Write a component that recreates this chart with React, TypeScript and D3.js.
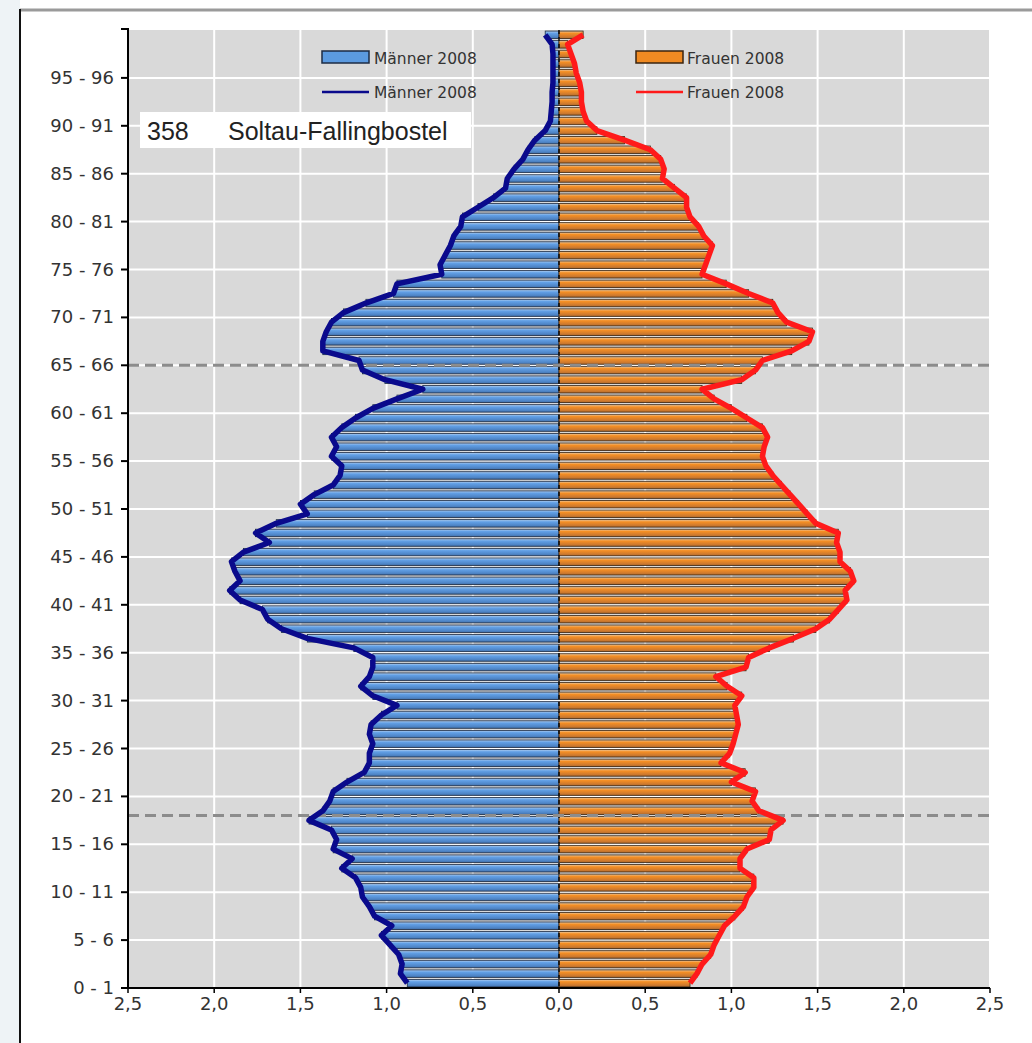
import * as d3 from 'd3';

// age groups 0..99, share of population in %
const ages = d3.range(0, 100);

const maleValues = [
  0.88, 0.92, 0.91, 0.93, 0.98, 1.03, 0.97, 1.07, 1.1, 1.14,
  1.15, 1.18, 1.26, 1.2, 1.31, 1.29, 1.32, 1.45, 1.37, 1.33,
  1.31, 1.23, 1.13, 1.1, 1.1, 1.08, 1.1, 1.09, 1.03, 0.94,
  1.08, 1.15, 1.1, 1.08, 1.08, 1.19, 1.46, 1.61, 1.69, 1.72,
  1.85, 1.91, 1.85, 1.88, 1.9, 1.83, 1.68, 1.76, 1.64, 1.46,
  1.5, 1.42, 1.31, 1.27, 1.26, 1.32, 1.29, 1.32, 1.26, 1.18,
  1.08, 0.94, 0.79, 1.01, 1.14, 1.16, 1.37, 1.37, 1.35, 1.32,
  1.25, 1.12, 0.96, 0.94, 0.68, 0.69, 0.66, 0.63, 0.61, 0.57,
  0.56, 0.47, 0.38, 0.31, 0.3, 0.26, 0.21, 0.18, 0.14, 0.08,
  0.05, 0.045, 0.04, 0.04, 0.035, 0.035, 0.035, 0.035, 0.04, 0.08,
];

const femaleValues = [
  0.76, 0.8, 0.83, 0.88, 0.9, 0.93, 0.96, 1.02, 1.07, 1.09,
  1.13, 1.13, 1.05, 1.05, 1.09, 1.22, 1.23, 1.3, 1.16, 1.12,
  1.14, 1.0, 1.08, 0.94, 0.99, 1.01, 1.025, 1.04, 1.03, 1.02,
  1.06, 0.975, 0.91, 1.085, 1.1, 1.22, 1.36, 1.49, 1.57, 1.62,
  1.67, 1.66, 1.71, 1.69, 1.63, 1.63, 1.61, 1.62, 1.49, 1.44,
  1.39, 1.34, 1.29, 1.24, 1.2, 1.18, 1.19, 1.21, 1.18, 1.09,
  1.0, 0.9, 0.83, 1.06, 1.14, 1.18, 1.35, 1.45, 1.47, 1.32,
  1.27, 1.24, 1.1, 0.97, 0.83, 0.85, 0.87, 0.89, 0.84, 0.81,
  0.76, 0.74, 0.74, 0.67, 0.6, 0.61, 0.59, 0.53, 0.38, 0.22,
  0.16, 0.14, 0.13, 0.13, 0.12, 0.1, 0.09, 0.07, 0.05, 0.14,
];

const yTickAges = d3.range(0, 100, 5);
const xTicks = [-2.5, -2, -1.5, -1, -0.5, 0, 0.5, 1, 1.5, 2, 2.5];
const markerAges = [65, 18];

const legendLabels = ['Männer 2008', 'Frauen 2008'];
const regionCode = '358';
const regionName = 'Soltau-Fallingbostel';

const fmt = (v: number) => Math.abs(v).toFixed(1).replace('.', ',');

export default function App() {
  const width = 1032;
  const height = 1043;
  const plot = { left: 128, right: 990, top: 30, bottom: 988 };

  const x = d3.scaleLinear().domain([-2.5, 2.5]).range([plot.left, plot.right]);
  const y = d3.scaleLinear().domain([0, 100]).range([plot.bottom, plot.top]);
  const band = y(0) - y(1);
  const barH = band * 0.78;

  const line = d3
    .line<[number, number]>()
    .x((d) => x(d[0]))
    .y((d) => y(d[1] + 0.5));

  const menPath = line(ages.map((a) => [-maleValues[a], a]));
  const womenPath = line(ages.map((a) => [femaleValues[a], a]));

  const tickFont = 'DejaVu Sans, Verdana, sans-serif';

  return (
    <svg
      width={width}
      height={height}
      style={{ position: 'absolute', left: 0, top: 0, background: '#fff' }}
    >
      <defs>
        <linearGradient id="menGrad" x1="0" y1="0" x2="0" y2="1">
          <stop offset="0%" stopColor="#b4d0f0" />
          <stop offset="30%" stopColor="#62a0e6" />
          <stop offset="75%" stopColor="#4f86c8" />
          <stop offset="100%" stopColor="#416fa8" />
        </linearGradient>
        <linearGradient id="womenGrad" x1="0" y1="0" x2="0" y2="1">
          <stop offset="0%" stopColor="#eccba4" />
          <stop offset="30%" stopColor="#f58f24" />
          <stop offset="75%" stopColor="#cf7a2e" />
          <stop offset="100%" stopColor="#ad692c" />
        </linearGradient>
      </defs>

      {/* slide frame */}
      <rect x={0} y={0} width={20} height={height} fill="#eef3f6" />
      <rect x={20} y={0} width={width - 20} height={10} fill="#fff" />
      <line x1={20} x2={width} y1={10} y2={10} stroke="#9a9a9a" strokeWidth={3} />
      <line x1={20} x2={20} y1={9} y2={height} stroke="#111" strokeWidth={2} />

      {/* plot area */}
      <rect
        x={plot.left}
        y={plot.top}
        width={plot.right - plot.left}
        height={plot.bottom - plot.top}
        fill="#d9d9d9"
      />
      {xTicks
        .filter((t) => t !== -2.5)
        .map((t) => (
          <line
            key={'vg' + t}
            x1={x(t)}
            x2={x(t)}
            y1={plot.top}
            y2={plot.bottom}
            stroke="#fff"
            strokeWidth={2}
          />
        ))}
      {yTickAges
        .filter((a) => a > 0)
        .map((a) => (
          <line
            key={'hg' + a}
            x1={plot.left}
            x2={plot.right}
            y1={y(a)}
            y2={y(a)}
            stroke="#fff"
            strokeWidth={2}
          />
        ))}

      {/* bars */}
      {ages.map((a) => (
        <rect
          key={'m' + a}
          x={x(-maleValues[a])}
          y={y(a + 0.5) - barH / 2}
          width={x(0) - x(-maleValues[a])}
          height={barH}
          fill="url(#menGrad)"
          stroke="#1c2b44"
          strokeWidth={0.8}
        />
      ))}
      {ages.map((a) => (
        <rect
          key={'f' + a}
          x={x(0)}
          y={y(a + 0.5) - barH / 2}
          width={x(femaleValues[a]) - x(0)}
          height={barH}
          fill="url(#womenGrad)"
          stroke="#3a2410"
          strokeWidth={0.8}
        />
      ))}

      {/* centre line */}
      <line
        x1={x(0)}
        x2={x(0)}
        y1={plot.top}
        y2={plot.bottom}
        stroke="#111"
        strokeWidth={1.6}
        strokeDasharray="4 3"
      />

      {/* marker lines for 65 and 18 */}
      {markerAges.map((a) => (
        <line
          key={'mk' + a}
          x1={plot.left}
          x2={plot.right}
          y1={y(a)}
          y2={y(a)}
          stroke="#8c8c8c"
          strokeWidth={3}
          strokeDasharray="11 6"
        />
      ))}

      {/* outlines */}
      <path d={menPath ?? ''} fill="none" stroke="#0a0a8c" strokeWidth={5.5} strokeLinejoin="round" />
      <path d={womenPath ?? ''} fill="none" stroke="#ff1a1a" strokeWidth={5.5} strokeLinejoin="round" />

      {/* axes */}
      <line x1={plot.left} x2={plot.left} y1={plot.top - 2} y2={plot.bottom} stroke="#000" strokeWidth={2} />
      <line x1={plot.left - 7} x2={plot.left} y1={plot.top - 1} y2={plot.top - 1} stroke="#000" strokeWidth={2} />
      {yTickAges.map((a) => (
        <g key={'yt' + a}>
          <line x1={plot.left - 7} x2={plot.left} y1={y(a)} y2={y(a)} stroke="#000" strokeWidth={2} />
          <text
            x={plot.left - 14}
            y={y(a) + 6}
            textAnchor="end"
            fontFamily={tickFont}
            fontSize={18}
            fill="#333"
          >
            {`${a} - ${a + 1}`}
          </text>
        </g>
      ))}
      <line x1={plot.left} x2={plot.right} y1={plot.bottom} y2={plot.bottom} stroke="#000" strokeWidth={2} />
      {xTicks.map((t) => (
        <g key={'xt' + t}>
          <line x1={x(t)} x2={x(t)} y1={plot.bottom} y2={plot.bottom + 5} stroke="#000" strokeWidth={1.5} />
          <text
            x={x(t)}
            y={plot.bottom + 22}
            textAnchor="middle"
            fontFamily={tickFont}
            fontSize={18}
            fill="#333"
          >
            {fmt(t)}
          </text>
        </g>
      ))}

      {/* legend */}
      <rect x={322} y={51} width={47} height={12} fill="#5b9ae0" stroke="#1c2b44" strokeWidth={1.5} />
      <text x={374} y={64} fontFamily={tickFont} fontSize={15.5} fill="#333">
        {legendLabels[0]}
      </text>
      <line x1={322} x2={369} y1={92} y2={92} stroke="#0a0a8c" strokeWidth={2.5} />
      <text x={374} y={98} fontFamily={tickFont} fontSize={15.5} fill="#333">
        {legendLabels[0]}
      </text>
      <rect x={636} y={51} width={47} height={12} fill="#f08a22" stroke="#3a2410" strokeWidth={1.5} />
      <text x={687} y={64} fontFamily={tickFont} fontSize={15.5} fill="#333">
        {legendLabels[1]}
      </text>
      <line x1={636} x2={683} y1={92} y2={92} stroke="#ff1a1a" strokeWidth={2.5} />
      <text x={687} y={98} fontFamily={tickFont} fontSize={15.5} fill="#333">
        {legendLabels[1]}
      </text>

      {/* region label */}
      <rect x={140} y={112} width={331} height={36} fill="#fff" />
      <text x={147} y={140} fontFamily="Liberation Sans, Arial, sans-serif" fontSize={25} fill="#222">
        {regionCode}
      </text>
      <text x={228} y={140} fontFamily="Liberation Sans, Arial, sans-serif" fontSize={25} fill="#222">
        {regionName}
      </text>
    </svg>
  );
}
